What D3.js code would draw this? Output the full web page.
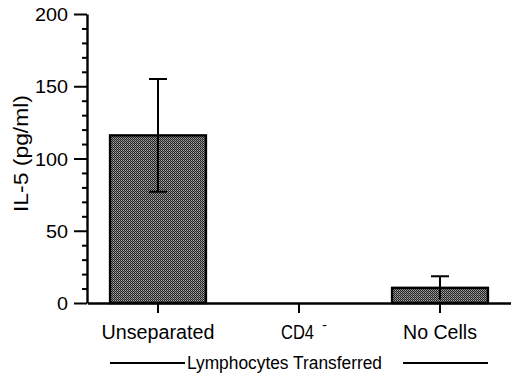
<!DOCTYPE html>
<html><head><meta charset="utf-8">
<script src="https://cdn.jsdelivr.net/npm/d3@7"></script>
<style>
html,body{margin:0;padding:0;background:#fff;}
svg{display:block;font-family:"Liberation Sans",Arial,Helvetica,sans-serif;}
</style></head>
<body>
<svg id="chart" width="520" height="378"></svg>
<script>
const categories = ["Unseparated", "CD4", "No Cells"];
const values = [116, 0, 10.5];
const errors = [39, 0, 8];
const yMajorTicks = [0, 50, 100, 150, 200];
const yMinorTicks = [10,20,30,40,60,70,80,90,110,120,130,140,160,170,180,190];
const yTitle = "IL-5 (pg/ml)";
const groupTitle = "Lymphocytes Transferred";

const svg = d3.select("#chart");

// pattern
const defs = svg.append("defs");
const pat = defs.append("pattern").attr("id","stip").attr("patternUnits","userSpaceOnUse")
  .attr("width",2).attr("height",2);
pat.append("rect").attr("width",2).attr("height",2).attr("fill","#222");
pat.append("rect").attr("x",1).attr("y",0).attr("width",1).attr("height",1).attr("fill","#a8a8a8");
pat.append("rect").attr("x",0).attr("y",1).attr("width",1).attr("height",1).attr("fill","#7e7e7e");

const y = d3.scaleLinear().domain([0,200]).range([303,14]);
const x = d3.scaleBand().domain(categories).range([87.5,510.5]).padding(0);
const barW = x.bandwidth()*0.68;

// bars
svg.append("g").selectAll("rect").data(categories.map((c,i)=>({c,v:values[i],e:errors[i]})).filter(d=>d.v>0))
  .join("rect")
  .attr("x",d=>x(d.c)+x.bandwidth()/2-barW/2)
  .attr("y",d=>y(d.v))
  .attr("width",barW)
  .attr("height",d=>y(0)-y(d.v))
  .attr("fill","url(#stip)")
  .attr("stroke","#000").attr("stroke-width",2.4);

// error bars
const eg = svg.append("g").attr("stroke","#000").attr("stroke-width",2);
categories.forEach((c,i)=>{
  if(errors[i]<=0) return;
  const cx = x(c)+x.bandwidth()/2;
  eg.append("line").attr("x1",cx).attr("x2",cx).attr("y1",y(values[i]+errors[i])).attr("y2",y(Math.max(values[i]-errors[i],0)));
  eg.append("line").attr("x1",cx-9).attr("x2",cx+9).attr("y1",y(values[i]+errors[i])).attr("y2",y(values[i]+errors[i]));
  if(values[i]-errors[i]>5)
    eg.append("line").attr("x1",cx-9).attr("x2",cx+9).attr("y1",y(values[i]-errors[i])).attr("y2",y(values[i]-errors[i]));
});

// y axis
const yAxisG = svg.append("g").attr("transform","translate(87,0)");
yAxisG.call(d3.axisLeft(y).tickValues(yMajorTicks).tickSize(13).tickSizeOuter(0).tickFormat(""));
yAxisG.append("g").call(d3.axisLeft(y).tickValues(yMinorTicks).tickSize(5).tickSizeOuter(0).tickFormat(""))
  .select(".domain").remove();
yAxisG.selectAll("line").attr("stroke","#000").attr("stroke-width",2);
yAxisG.selectAll(".domain").attr("stroke","#000").attr("stroke-width",2.4);

svg.append("g").selectAll("text").data(yMajorTicks).join("text")
  .attr("x",68).attr("y",d=>y(d)+7)
  .attr("text-anchor","end").attr("font-size",18.5)
  .attr("textLength",d=>String(d).length*11).attr("lengthAdjust","spacingAndGlyphs")
  .text(d=>d);

// x axis
const xAxisG = svg.append("g").attr("transform","translate(0,303)");
xAxisG.call(d3.axisBottom(x).tickSize(10).tickSizeOuter(0).tickFormat(""));
xAxisG.selectAll("line").attr("stroke","#000").attr("stroke-width",2);
xAxisG.selectAll(".domain").attr("stroke","#000").attr("stroke-width",2.4);

const labelWidths = {"Unseparated":113, "CD4":33, "No Cells":74};
const lab = svg.append("g").attr("font-size",19.5);
categories.forEach(c=>{
  const cx = x(c)+x.bandwidth()/2;
  if(c==="CD4"){
    lab.append("text").attr("x",cx-18).attr("y",338.5)
      .attr("textLength",labelWidths[c]).attr("lengthAdjust","spacingAndGlyphs").text(c);
    lab.append("text").attr("x",cx+23).attr("y",330).attr("font-size",15).text("-");
  } else {
    lab.append("text").attr("x",cx).attr("y",338.5).attr("text-anchor","middle")
      .attr("textLength",labelWidths[c]).attr("lengthAdjust","spacingAndGlyphs").text(c);
  }
});

// group title with lines
svg.append("text").attr("x",284.5).attr("y",369).attr("text-anchor","middle").attr("font-size",17.5)
  .attr("textLength",195).attr("lengthAdjust","spacingAndGlyphs").text(groupTitle);
svg.append("line").attr("x1",110).attr("x2",185).attr("y1",363).attr("y2",363).attr("stroke","#000").attr("stroke-width",2);
svg.append("line").attr("x1",403).attr("x2",488).attr("y1",363).attr("y2",363).attr("stroke","#000").attr("stroke-width",2);

// y title
svg.append("text").attr("transform","translate(27.5,153.5) rotate(-90)")
  .attr("text-anchor","middle").attr("font-size",20)
  .attr("textLength",117).attr("lengthAdjust","spacingAndGlyphs").text(yTitle);
</script>
</body></html>
